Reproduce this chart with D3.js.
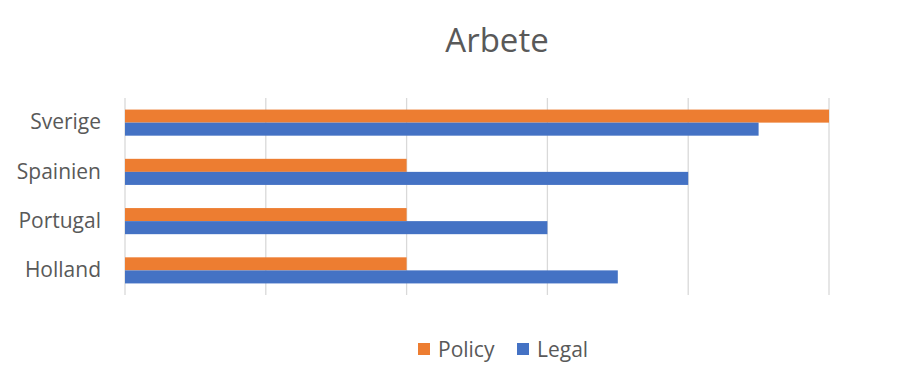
<!DOCTYPE html>
<html>
<head>
<meta charset="utf-8">
<style>
  body { margin: 0; background: #fff; }
  text { font-family: "Open Sans", "Liberation Sans", sans-serif; fill: #595959; }
</style>
</head>
<body>
<script src="https://cdn.jsdelivr.net/npm/d3@7"></script>
<script>
// chart data, top to bottom
var categories = ["Sverige", "Spainien", "Portugal", "Holland"];
var policy = [5, 2, 2, 2];
var legal = [4.5, 4, 3, 3.5];
var seriesNames = ["Policy", "Legal"];
var seriesColors = ["#ED7D31", "#4472C4"];
var gridValues = [0, 1, 2, 3, 4, 5];

var width = 914, height = 379;
var plotLeft = 125, plotRight = 829, plotTop = 98, plotBottom = 295;

var svg = d3.select("body").append("svg")
    .attr("width", width)
    .attr("height", height);

var x = d3.scaleLinear().domain([0, 5]).range([plotLeft, plotRight]);
var y = d3.scaleBand().domain(categories).range([plotTop, plotBottom]).paddingInner(0.47).paddingOuter(0.235);
var sub = d3.scaleBand().domain(seriesNames).range([0, y.bandwidth()]);

// gridlines
svg.append("g")
    .selectAll("line")
    .data(gridValues)
    .enter().append("line")
    .attr("x1", function(d) { return x(d); })
    .attr("x2", function(d) { return x(d); })
    .attr("y1", plotTop)
    .attr("y2", plotBottom)
    .attr("stroke", "#d9d9d9")
    .attr("stroke-width", 1.3);

var rows = categories.map(function(c, i) {
    return { cat: c, vals: [policy[i], legal[i]] };
});

var g = svg.append("g").selectAll("g")
    .data(rows)
    .enter().append("g")
    .attr("transform", function(d) { return "translate(0," + y(d.cat) + ")"; });

g.selectAll("rect")
    .data(function(d) { return d.vals.map(function(v, i) { return { name: seriesNames[i], v: v, c: seriesColors[i] }; }); })
    .enter().append("rect")
    .attr("x", x(0))
    .attr("y", function(d) { return sub(d.name); })
    .attr("width", function(d) { return x(d.v) - x(0); })
    .attr("height", sub.bandwidth())
    .attr("fill", function(d) { return d.c; });

// category labels
var yAxis = d3.axisLeft(y).tickSize(0).tickPadding(24);
var ya = svg.append("g")
    .attr("transform", "translate(" + plotLeft + ",0)")
    .call(yAxis);
ya.select(".domain").remove();
ya.selectAll("text")
    .style("font-size", "21px")
    .style("font-family", "'Open Sans', sans-serif")
    .attr("fill", "#595959");

// title
svg.append("text")
    .attr("x", 497)
    .attr("y", 52)
    .attr("text-anchor", "middle")
    .style("font-size", "33px")
    .text("Arbete");

// legend
var legendX = [418, 517];
var lg = svg.append("g").selectAll("g")
    .data(seriesNames)
    .enter().append("g")
    .attr("transform", function(d, i) { return "translate(" + legendX[i] + ",343)"; });
lg.append("rect")
    .attr("width", 12)
    .attr("height", 12)
    .attr("fill", function(d, i) { return seriesColors[i]; });
lg.append("text")
    .attr("x", 20)
    .attr("y", 14)
    .style("font-size", "21px")
    .text(function(d) { return d; });
</script>
</body>
</html>
